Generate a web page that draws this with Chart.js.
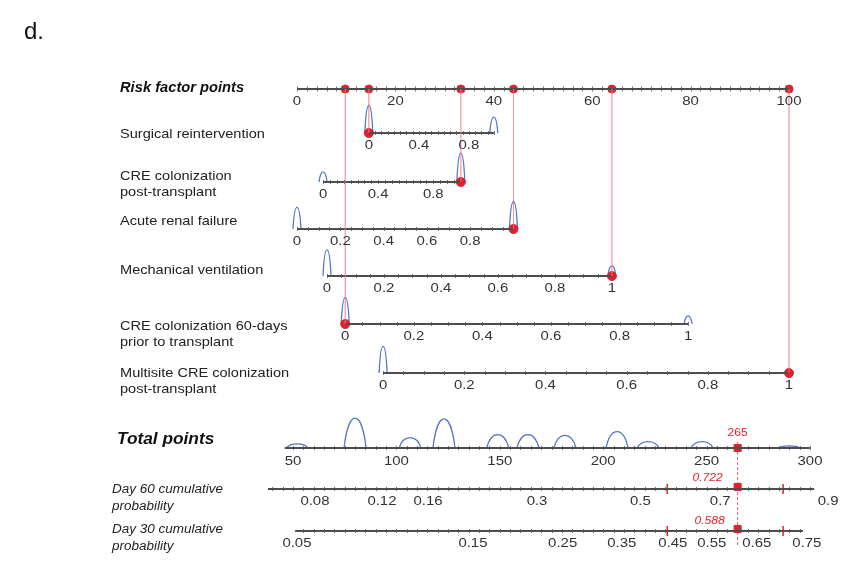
<!DOCTYPE html>
<html>
<head>
<meta charset="utf-8">
<script src="https://cdn.jsdelivr.net/npm/chart.js@4.4.1/dist/chart.umd.min.js"></script>
<style>
    body { margin: 0; background: #fff; }
    #wrap { width: 844px; height: 565px; }
</style>
</head>
<body>
<div id="wrap"><canvas id="nomogram" width="844" height="565"></canvas></div>
<script>
// ---- data ----
const pointTicks = [0, 20, 40, 60, 80, 100];

const varLabels = [
    ["Surgical reintervention"],
    ["CRE colonization", "post-transplant"],
    ["Acute renal failure"],
    ["Mechanical ventilation"],
    ["CRE colonization 60-days", "prior to transplant"],
    ["Multisite CRE colonization", "post-transplant"]
];
const varPointsAtZero = [14.6, 5.3, 0, 6.1, 9.8, 17.5];
const varPointsAtOne = [40, 33.3, 44, 64, 79.5, 100];
const varTicks = [
    [0, 0.4, 0.8],
    [0, 0.4, 0.8],
    [0, 0.2, 0.4, 0.6, 0.8],
    [0, 0.2, 0.4, 0.6, 0.8, 1],
    [0, 0.2, 0.4, 0.6, 0.8, 1],
    [0, 0.2, 0.4, 0.6, 0.8, 1]
];
const varSelected = [0, 1, 1, 1, 0, 1];
// relative density of patients at 0 and at 1
const varDensityZero = [0.95, 0.35, 0.75, 0.9, 0.92, 0.92];
const varDensityOne = [0.55, 1.0, 0.95, 0.35, 0.28, 0];

const totalTicks = [50, 100, 150, 200, 250, 300];
const totalDensityAt = [52, 80, 106.6, 123, 149, 163.6, 181.5, 206.7, 221.7, 247.8, 290];
const totalDensity = [0.14, 1.0, 0.35, 0.97, 0.45, 0.45, 0.42, 0.55, 0.21, 0.21, 0.07];
const totalScore = 265;

const day60Ticks = ["0.08", "0.12", "0.16", "0.3", "0.5", "0.7", "0.9"];
const day60TickAt = [60.6, 93, 115.3, 168, 218, 256.6, 308.8];
const day60Range = [37.9, 302];
const day60Pred = 0.722;
const day60Ci = [231, 287];

const day30Ticks = ["0.05", "0.15", "0.25", "0.35", "0.45", "0.55", "0.65", "0.75"];
const day30TickAt = [51.9, 137, 180.4, 209, 233.7, 252.5, 274.3, 298.5];
const day30Range = [51, 296.6];
const day30Pred = 0.588;
const day30Ci = [231, 287];

// ---- layout ----
const rowY = { points: 89, vars: [133, 182, 229, 276, 324, 373], total: 448, day60: 489, day30: 531 };
const labelY = { points: 88, vars: [[134], [176, 192], [221], [270], [326, 342], [373, 389]], total: 440, day60: [490, 507], day30: [530, 547] };
const FONT = '"Liberation Sans", Arial, sans-serif';
const AXIS = '#4d4d4d';
const RED = '#e3202b';
const BLUE = '#5577c4';

// total points live on their own axis; convert them to the points scale
function tp(v) { return -0.81 + (v - 50) * 0.4203; }
function vp(i, v) { return varPointsAtZero[i] + v * (varPointsAtOne[i] - varPointsAtZero[i]); }

const datasets = [];
function seg(x1, y1, x2, y2, color, width, dash) {
    datasets.push({
        data: [{ x: x1, y: y1 }, { x: x2, y: y2 }],
        showLine: true, borderColor: color, borderWidth: width,
        borderDash: dash || [], pointRadius: 0
    });
}

// guide lines from the selected points up to the points axis
varSelected.forEach((v, i) => seg(vp(i, v), rowY.points, vp(i, v), rowY.vars[i], 'rgba(235,120,130,0.4)', 1));

// axis lines
seg(0, rowY.points, 100, rowY.points, AXIS, 2);
varPointsAtZero.forEach((p, i) => seg(p, rowY.vars[i], varPointsAtOne[i], rowY.vars[i], AXIS, 2));
seg(tp(46), rowY.total, tp(300), rowY.total, AXIS, 2);
seg(tp(day60Range[0]), rowY.day60, tp(day60Range[1]), rowY.day60, AXIS, 2);
seg(tp(day30Range[0]), rowY.day30, tp(day30Range[1]), rowY.day30, AXIS, 2);

// predicted total and intervals
seg(tp(totalScore), rowY.total - 6, tp(totalScore), rowY.day30 + 16, 'rgba(227,32,43,0.7)', 1, [3, 2]);
seg(tp(day60Ci[0]), rowY.day60, tp(day60Ci[1]), rowY.day60, RED, 2);
seg(tp(day30Ci[0]), rowY.day30, tp(day30Ci[1]), rowY.day30, RED, 2);

// red markers
datasets.push({
    data: varSelected.map((v, i) => ({ x: vp(i, v), y: rowY.points })),
    pointStyle: 'circle', pointRadius: 4, backgroundColor: RED, borderColor: RED, showLine: false
});
datasets.push({
    data: varSelected.map((v, i) => ({ x: vp(i, v), y: rowY.vars[i] })),
    pointStyle: 'circle', pointRadius: 4.5, backgroundColor: RED, borderColor: RED, showLine: false
});
datasets.push({
    data: [{ x: tp(totalScore), y: rowY.total }, { x: tp(totalScore), y: rowY.day60 - 2 }, { x: tp(totalScore), y: rowY.day30 - 2 }],
    pointStyle: 'rect', pointRadius: 5, backgroundColor: RED, borderColor: RED, showLine: false
});

function text(ctx, s, x, y, font, color, align, sx) {
    ctx.save();
    ctx.translate(x, y);
    ctx.scale(sx || 1, 1);
    ctx.font = font;
    ctx.fillStyle = color;
    ctx.textAlign = align || 'center';
    ctx.textBaseline = 'middle';
    ctx.fillText(s, 0, 0);
    ctx.restore();
}

function tickRow(ctx, xs, y, h) {
    ctx.save();
    ctx.strokeStyle = '#777';
    ctx.lineWidth = 1;
    ctx.beginPath();
    xs.forEach(x => { ctx.moveTo(Math.round(x) + 0.5, y - h); ctx.lineTo(Math.round(x) + 0.5, y + h); });
    ctx.stroke();
    ctx.restore();
}

function hump(ctx, x, y, h, w) {
    if (h <= 0) return;
    ctx.beginPath();
    ctx.moveTo(x - w, y);
    ctx.bezierCurveTo(x - w * 0.6, y - h * 1.33, x + w * 0.6, y - h * 1.33, x + w, y);
    ctx.stroke();
}

const nomogramPlugin = {
    id: 'nomogram',
    beforeDatasetsDraw(chart) {
        const ctx = chart.ctx;
        const X = v => chart.scales.x.getPixelForValue(v);
        const Y = v => chart.scales.y.getPixelForValue(v);

        // minor ticks
        const pts = [];
        for (let p = 0; p <= 100; p += 2) pts.push(X(p));
        tickRow(ctx, pts, Y(rowY.points), 2.5);
        varPointsAtZero.forEach((p0, i) => {
            const xs = [];
            for (let v = 0; v <= 1.0001; v += 0.05) xs.push(X(vp(i, v)));
            tickRow(ctx, xs, Y(rowY.vars[i]), 2);
        });
        const tot = [];
        for (let t = 50; t <= 300; t += 5) tot.push(X(tp(t)));
        tickRow(ctx, tot, Y(rowY.total), 2);
        const d60 = [], d30 = [];
        for (let t = 40; t <= day60Range[1]; t += 5) d60.push(X(tp(t)));
        for (let t = 55; t <= day30Range[1]; t += 5) d30.push(X(tp(t)));
        tickRow(ctx, d60, Y(rowY.day60), 2);
        tickRow(ctx, d30, Y(rowY.day30), 2);

        // density humps
        ctx.save();
        ctx.strokeStyle = BLUE;
        ctx.lineWidth = 1.3;
        varPointsAtZero.forEach((p0, i) => {
            hump(ctx, X(vp(i, 0)), Y(rowY.vars[i]), varDensityZero[i] * 29, 4);
            hump(ctx, X(vp(i, 1)), Y(rowY.vars[i]), varDensityOne[i] * 29, 4);
        });
        totalDensityAt.forEach((t, i) => hump(ctx, X(tp(t)), Y(rowY.total), totalDensity[i] * 30, 11));
        ctx.restore();

        // interval end caps
        ctx.save();
        ctx.strokeStyle = RED;
        ctx.lineWidth = 1.5;
        ctx.beginPath();
        [rowY.day60, rowY.day30].forEach(r => day60Ci.forEach(t => {
            ctx.moveTo(X(tp(t)), Y(r) - 5);
            ctx.lineTo(X(tp(t)), Y(r) + 5);
        }));
        ctx.stroke();
        ctx.restore();
    },
    afterDatasetsDraw(chart) {
        const ctx = chart.ctx;
        const X = v => chart.scales.x.getPixelForValue(v);
        const Y = v => chart.scales.y.getPixelForValue(v);
        const tickFont = '13px ' + FONT;
        const tickColor = '#333';

        text(ctx, 'd.', 24, 32, '24px ' + FONT, '#111', 'left');

        // left labels
        text(ctx, 'Risk factor points', 120, labelY.points, 'italic bold 14px ' + FONT, '#111', 'left', 1.05);
        varLabels.forEach((lines, i) => lines.forEach((s, k) =>
            text(ctx, s, 120, labelY.vars[i][k], '13px ' + FONT, '#222', 'left', 1.12)));
        text(ctx, 'Total points', 117, labelY.total, 'italic bold 16px ' + FONT, '#111', 'left', 1.08);
        text(ctx, 'Day 60 cumulative', 112, labelY.day60[0], 'italic 12.5px ' + FONT, '#222', 'left', 1.08);
        text(ctx, 'probability', 112, labelY.day60[1], 'italic 12.5px ' + FONT, '#222', 'left', 1.08);
        text(ctx, 'Day 30 cumulative', 112, labelY.day30[0], 'italic 12.5px ' + FONT, '#222', 'left', 1.08);
        text(ctx, 'probability', 112, labelY.day30[1], 'italic 12.5px ' + FONT, '#222', 'left', 1.08);

        // tick labels
        pointTicks.forEach(p => text(ctx, String(p), X(p), Y(rowY.points) + 12, tickFont, tickColor, 'center', 1.15));
        varTicks.forEach((ticks, i) => ticks.forEach(v =>
            text(ctx, String(v), X(vp(i, v)), Y(rowY.vars[i]) + 12, tickFont, tickColor, 'center', 1.15)));
        totalTicks.forEach(t => text(ctx, String(t), X(tp(t)), Y(rowY.total) + 13, tickFont, tickColor, 'center', 1.15));
        day60Ticks.forEach((s, i) => text(ctx, s, X(tp(day60TickAt[i])), Y(rowY.day60) + 12, tickFont, tickColor, 'center', 1.15));
        day30Ticks.forEach((s, i) => text(ctx, s, X(tp(day30TickAt[i])), Y(rowY.day30) + 12, tickFont, tickColor, 'center', 1.15));

        // predicted values
        const px = X(tp(totalScore));
        text(ctx, String(totalScore), px, Y(rowY.total) - 15, '11px ' + FONT, RED, 'center', 1.1);
        text(ctx, day60Pred.toFixed(3), px - 30, Y(rowY.day60) - 11, 'italic 11px ' + FONT, RED, 'center', 1.1);
        text(ctx, day30Pred.toFixed(3), px - 28, Y(rowY.day30) - 10, 'italic 11px ' + FONT, RED, 'center', 1.1);
    }
};

new Chart(document.getElementById('nomogram'), {
    type: 'scatter',
    data: { datasets: datasets },
    options: {
        responsive: false,
        animation: false,
        clip: false,
        layout: { padding: 0, autoPadding: false },
        plugins: { legend: { display: false }, tooltip: { enabled: false } },
        scales: {
            x: { type: 'linear', display: false, min: -60.37, max: 111.18 },
            y: { type: 'linear', display: false, min: 0, max: 565, reverse: true }
        }
    },
    plugins: [nomogramPlugin]
});
</script>
</body>
</html>
